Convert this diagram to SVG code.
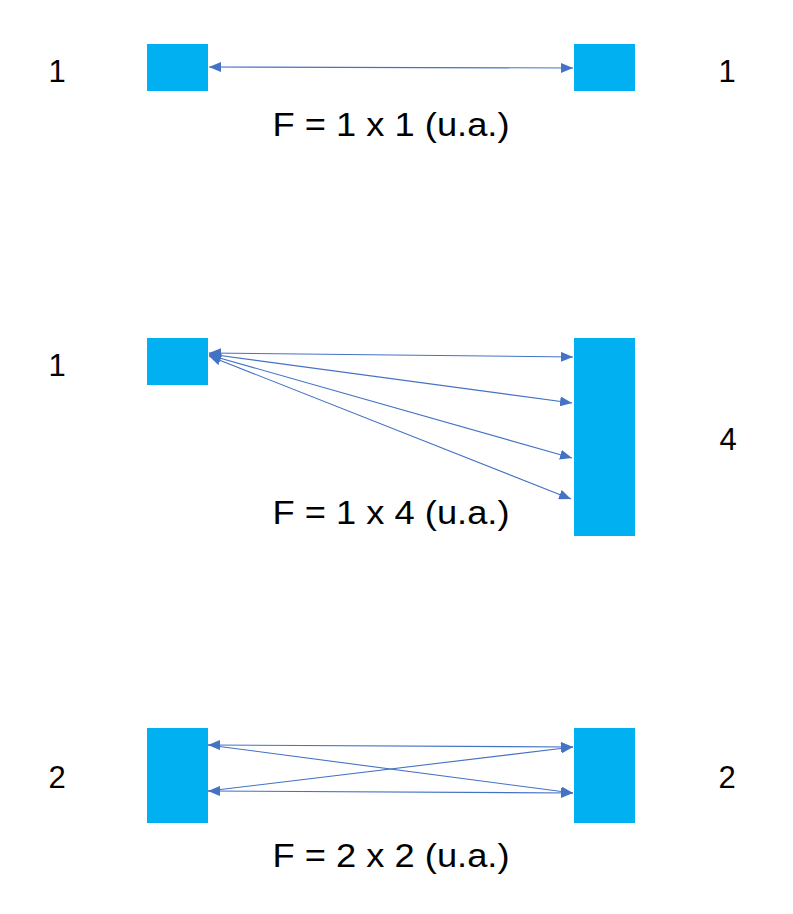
<svg xmlns="http://www.w3.org/2000/svg" width="793" height="914" viewBox="0 0 793 914">
<style>
.box{fill:#00B0F0}
.c{stroke:#4472C4;stroke-width:1.1;fill:none;marker-start:url(#ah);marker-end:url(#ah)}
.lbl{font-family:"Liberation Sans",Arial,sans-serif;font-size:33px;fill:#000;text-anchor:middle}
.num{font-family:"Liberation Sans",Arial,sans-serif;font-size:31px;fill:#000;text-anchor:middle}
</style>
<defs>
<marker id="ah" viewBox="0 0 12 10" refX="12" refY="5" markerWidth="12" markerHeight="10" markerUnits="userSpaceOnUse" orient="auto-start-reverse">
<path d="M0,0 L12,5 L0,10 Z" fill="#4472C4"/>
</marker>
</defs>
<rect width="793" height="914" fill="#fff"/>
<g id="row1">
<g id="r1-left"><rect class="box" x="147" y="44" width="61" height="47"/></g>
<g id="r1-right"><rect class="box" x="574" y="44" width="61" height="47"/></g>
<text class="num" x="57" y="82">1</text>
<text class="num" x="727" y="82">1</text>
<text class="lbl" x="391" y="136" textLength="237" lengthAdjust="spacingAndGlyphs">F = 1 x 1 (u.a.)</text>
</g>
<g id="row2">
<g id="r2-left"><rect class="box" x="147" y="338" width="61" height="47"/></g>
<g id="r2-right"><rect class="box" x="574" y="338" width="61" height="198"/></g>
<text class="num" x="57" y="376">1</text>
<text class="num" x="728" y="450">4</text>
<text class="lbl" x="391" y="524" textLength="237" lengthAdjust="spacingAndGlyphs">F = 1 x 4 (u.a.)</text>
</g>
<g id="row3">
<g id="r3-left"><rect class="box" x="147" y="728" width="61" height="95"/></g>
<g id="r3-right"><rect class="box" x="574" y="728" width="61" height="95"/></g>
<text class="num" x="57" y="788">2</text>
<text class="num" x="727" y="788">2</text>
<text class="lbl" x="391" y="867" textLength="237" lengthAdjust="spacingAndGlyphs">F = 2 x 2 (u.a.)</text>
</g>
<g id="connectors">
<line class="c" x1="209" y1="67" x2="573" y2="68"/>
<line class="c" x1="209" y1="353" x2="573" y2="357"/>
<line class="c" x1="209" y1="354" x2="572" y2="403"/>
<line class="c" x1="209" y1="355" x2="572" y2="458"/>
<line class="c" x1="209" y1="356" x2="571" y2="499"/>
<line class="c" x1="208" y1="745" x2="573" y2="747"/>
<line class="c" x1="208" y1="791" x2="573" y2="793"/>
<line class="c" x1="208" y1="745" x2="573" y2="793" style="marker-start:none"/>
<line class="c" x1="208" y1="791" x2="573" y2="747" style="marker-start:none"/>
</g>
</svg>
